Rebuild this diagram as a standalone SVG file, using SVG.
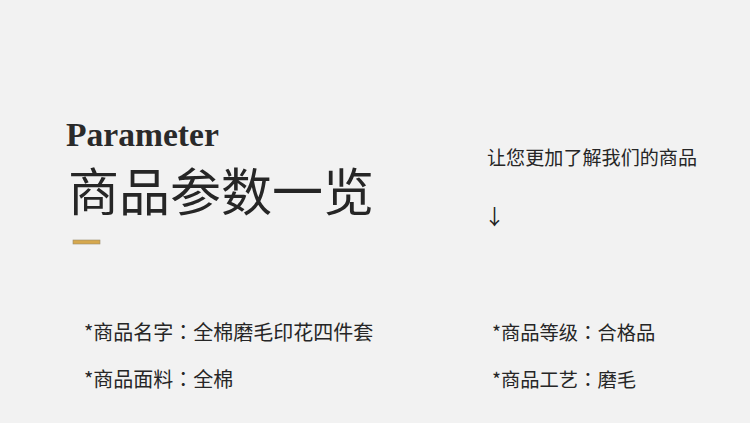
<svg xmlns="http://www.w3.org/2000/svg" width="750" height="423" viewBox="0 0 750 423">
<style>
.cn{font-family:"Noto Sans CJK SC","Noto Sans",sans-serif;fill:#262626}
.item{font-size:20px}
.item2{font-size:19.3px}
.col{font-family:"Noto Sans CJK TC","Noto Sans CJK SC",sans-serif}
</style>
<rect width="750" height="423" fill="#f2f2f2"/>
<g id="title">
<text x="66" y="145.5" font-family="Liberation Serif,serif" font-weight="bold" font-size="33.6" fill="#2a2a2a">Parameter</text>
<text class="cn" x="68" y="211" font-size="51" font-weight="400" fill="#111">商品参数一览</text>
<rect x="73" y="240" width="27" height="4" fill="#d6a84e" stroke="#9a8a6a" stroke-width="0.6"/>
</g>
<g id="intro">
<text class="cn" x="487" y="165" font-size="19.1" fill="#333">让您更加了解我们的商品</text>
<text x="484" y="224" font-family="Noto Sans CJK SC,sans-serif" font-size="21" fill="#222">↓</text>
</g>
<g id="params">
<text class="cn item" x="84" y="340">*商品名字<tspan class="col">：</tspan>全棉磨毛印花四件套</text>
<text class="cn item" x="84" y="387">*商品面料<tspan class="col">：</tspan>全棉</text>
<text class="cn item2" x="492" y="340">*商品等级<tspan class="col">：</tspan>合格品</text>
<text class="cn item2" x="492" y="387">*商品工艺<tspan class="col">：</tspan>磨毛</text>
</g>
</svg>
